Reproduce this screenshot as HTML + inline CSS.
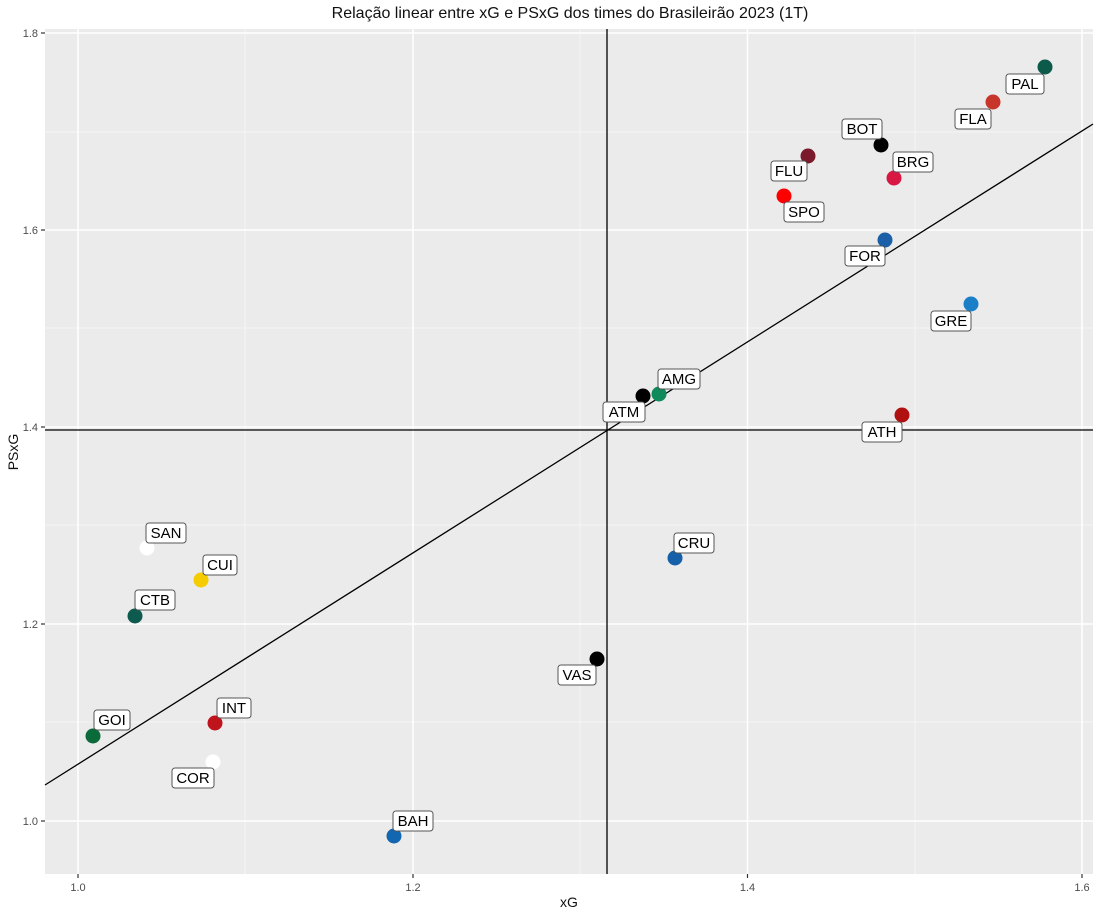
<!DOCTYPE html>
<html><head><meta charset="utf-8"><style>
html,body{margin:0;padding:0;background:#fff;}
svg{display:block;font-family:"Liberation Sans",Arial,sans-serif;}
</style></head><body>
<svg width="1100" height="916" viewBox="0 0 1100 916" xmlns="http://www.w3.org/2000/svg">
<rect x="0" y="0" width="1100" height="916" fill="#fff"/>
<text x="570" y="18" font-size="16" text-anchor="middle" fill="#111">Relação linear entre xG e PSxG dos times do Brasileirão 2023 (1T)</text>
<rect x="45" y="29" width="1048" height="845" fill="#ebebeb"/>
<g stroke="#f7f7f7" stroke-width="0.8">
<line x1="245" y1="29" x2="245" y2="874"/><line x1="580" y1="29" x2="580" y2="874"/><line x1="915" y1="29" x2="915" y2="874"/>
<line x1="45" y1="132" x2="1093" y2="132"/><line x1="45" y1="328" x2="1093" y2="328"/><line x1="45" y1="525" x2="1093" y2="525"/><line x1="45" y1="722" x2="1093" y2="722"/>
</g>
<g stroke="#fff" stroke-width="1.5">
<line x1="78" y1="29" x2="78" y2="874"/><line x1="413" y1="29" x2="413" y2="874"/><line x1="747.5" y1="29" x2="747.5" y2="874"/><line x1="1082" y1="29" x2="1082" y2="874"/>
<line x1="45" y1="33" x2="1093" y2="33"/><line x1="45" y1="230" x2="1093" y2="230"/><line x1="45" y1="427" x2="1093" y2="427"/><line x1="45" y1="624" x2="1093" y2="624"/><line x1="45" y1="821" x2="1093" y2="821"/>
</g>
<g stroke="#333" stroke-width="1.2">
<line x1="78" y1="874" x2="78" y2="878"/><line x1="413" y1="874" x2="413" y2="878"/><line x1="747.5" y1="874" x2="747.5" y2="878"/><line x1="1082" y1="874" x2="1082" y2="878"/>
<line x1="41" y1="33" x2="45" y2="33"/><line x1="41" y1="230" x2="45" y2="230"/><line x1="41" y1="427" x2="45" y2="427"/><line x1="41" y1="624" x2="45" y2="624"/><line x1="41" y1="821" x2="45" y2="821"/>
</g>
<g font-size="11" fill="#4d4d4d">
<text x="78" y="891" text-anchor="middle">1.0</text><text x="413" y="891" text-anchor="middle">1.2</text><text x="747.5" y="891" text-anchor="middle">1.4</text><text x="1082" y="891" text-anchor="middle">1.6</text>
<text x="38" y="37" text-anchor="end">1.8</text><text x="38" y="234" text-anchor="end">1.6</text><text x="38" y="431" text-anchor="end">1.4</text><text x="38" y="628" text-anchor="end">1.2</text><text x="38" y="825" text-anchor="end">1.0</text>
</g>
<text x="569" y="907" font-size="14" text-anchor="middle" fill="#111">xG</text>
<text transform="translate(18,452) rotate(-90)" font-size="14" text-anchor="middle" fill="#111">PSxG</text>
<g stroke="#000" stroke-width="1.3">
<line x1="607" y1="29" x2="607" y2="874"/>
<line x1="45" y1="430" x2="1093" y2="430"/>
<line x1="45" y1="785" x2="1093" y2="124"/>
</g>
<g>
<circle cx="1045" cy="67" r="7.5" fill="#0b5a4a"/>
<circle cx="993" cy="102" r="7.5" fill="#c8352a"/>
<circle cx="881" cy="145" r="7.5" fill="#000"/>
<circle cx="894" cy="178" r="7.5" fill="#d81842"/>
<circle cx="808" cy="156" r="7.5" fill="#7a1a2a"/>
<circle cx="784" cy="196" r="7.5" fill="#ff0000"/>
<circle cx="885" cy="240" r="7.5" fill="#1b5fa8"/>
<circle cx="971" cy="304" r="7.5" fill="#1a7fc7"/>
<circle cx="659" cy="394" r="7.5" fill="#0f8a5a"/>
<circle cx="643" cy="396" r="7.5" fill="#000"/>
<circle cx="902" cy="415" r="7.5" fill="#b01010"/>
<circle cx="675" cy="558" r="7.5" fill="#1560a8"/>
<circle cx="147" cy="548" r="7.5" fill="#ffffff"/>
<circle cx="201" cy="580" r="7.5" fill="#f5cc00"/>
<circle cx="135" cy="616" r="7.5" fill="#0d5a4e"/>
<circle cx="597" cy="659" r="7.5" fill="#000"/>
<circle cx="215" cy="723" r="7.5" fill="#c0141c"/>
<circle cx="93" cy="736" r="7.5" fill="#0a6a3a"/>
<circle cx="213" cy="762" r="7.5" fill="#ffffff"/>
<circle cx="394" cy="836" r="7.5" fill="#1366b0"/>
</g>
<g font-size="15" fill="#000" text-anchor="middle">
<g transform="translate(1025,84)"><rect x="-19" y="-10" width="38" height="20" rx="3" fill="#fff" stroke="#555"/><text y="5">PAL</text></g>
<g transform="translate(973,119)"><rect x="-18" y="-10" width="36" height="20" rx="3" fill="#fff" stroke="#555"/><text y="5">FLA</text></g>
<g transform="translate(862,129)"><rect x="-20" y="-10" width="40" height="20" rx="3" fill="#fff" stroke="#555"/><text y="5">BOT</text></g>
<g transform="translate(913,162)"><rect x="-20" y="-10" width="40" height="20" rx="3" fill="#fff" stroke="#555"/><text y="5">BRG</text></g>
<g transform="translate(789,171)"><rect x="-18" y="-10" width="36" height="20" rx="3" fill="#fff" stroke="#555"/><text y="5">FLU</text></g>
<g transform="translate(804,212)"><rect x="-20" y="-10" width="40" height="20" rx="3" fill="#fff" stroke="#555"/><text y="5">SPO</text></g>
<g transform="translate(865,256)"><rect x="-20" y="-10" width="40" height="20" rx="3" fill="#fff" stroke="#555"/><text y="5">FOR</text></g>
<g transform="translate(951,321)"><rect x="-20" y="-10" width="40" height="20" rx="3" fill="#fff" stroke="#555"/><text y="5">GRE</text></g>
<g transform="translate(679,379)"><rect x="-21" y="-10" width="42" height="20" rx="3" fill="#fff" stroke="#555"/><text y="5">AMG</text></g>
<g transform="translate(624,412)"><rect x="-21" y="-10" width="42" height="20" rx="3" fill="#fff" stroke="#555"/><text y="5">ATM</text></g>
<g transform="translate(882,432)"><rect x="-20" y="-10" width="40" height="20" rx="3" fill="#fff" stroke="#555"/><text y="5">ATH</text></g>
<g transform="translate(694,543)"><rect x="-20" y="-10" width="40" height="20" rx="3" fill="#fff" stroke="#555"/><text y="5">CRU</text></g>
<g transform="translate(166,533)"><rect x="-20" y="-10" width="40" height="20" rx="3" fill="#fff" stroke="#555"/><text y="5">SAN</text></g>
<g transform="translate(220,565)"><rect x="-17" y="-10" width="34" height="20" rx="3" fill="#fff" stroke="#555"/><text y="5">CUI</text></g>
<g transform="translate(155,600)"><rect x="-20" y="-10" width="40" height="20" rx="3" fill="#fff" stroke="#555"/><text y="5">CTB</text></g>
<g transform="translate(577,675)"><rect x="-19" y="-10" width="38" height="20" rx="3" fill="#fff" stroke="#555"/><text y="5">VAS</text></g>
<g transform="translate(234,708)"><rect x="-17" y="-10" width="34" height="20" rx="3" fill="#fff" stroke="#555"/><text y="5">INT</text></g>
<g transform="translate(112,720)"><rect x="-18" y="-10" width="36" height="20" rx="3" fill="#fff" stroke="#555"/><text y="5">GOI</text></g>
<g transform="translate(193,778)"><rect x="-21" y="-10" width="42" height="20" rx="3" fill="#fff" stroke="#555"/><text y="5">COR</text></g>
<g transform="translate(413,821)"><rect x="-20" y="-10" width="40" height="20" rx="3" fill="#fff" stroke="#555"/><text y="5">BAH</text></g>
</g>
</svg>
</body></html>
